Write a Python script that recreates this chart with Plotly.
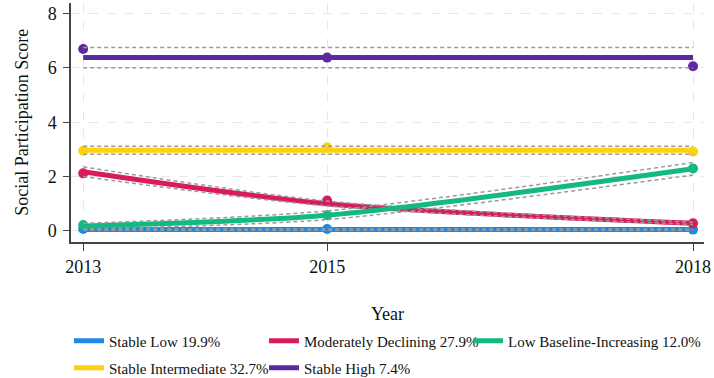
import plotly.graph_objects as go

years = [2013, 2015, 2018]
groups = ["Stable Low 19.9%", "Moderately Declining 27.9%", "Low Baseline-Increasing 12.0%",
          "Stable Intermediate 32.7%", "Stable High 7.4%"]
colors = ["#1E88E5", "#D81B60", "#12B981", "#FFD10A", "#5B2AA0"]

observed_low = [0.07, 0.07, 0.05]
observed_decl = [2.12, 1.12, 0.28]
observed_incr = [0.22, 0.58, 2.30]
observed_inter = [2.95, 3.08, 2.92]
observed_high = [6.70, 6.38, 6.06]

fitted_low = [0.05, 0.05, 0.05]
fitted_decl = [2.18, 1.00, 0.28]
fitted_incr = [0.18, 0.58, 2.29]
fitted_inter = [2.97, 2.97, 2.97]
fitted_high = [6.38, 6.38, 6.38]

upper_low = [0.07, 0.07, 0.07]
lower_low = [0.03, 0.03, 0.03]
upper_decl = [2.36, 1.10, 0.32]
lower_decl = [2.00, 0.92, 0.24]
upper_incr = [0.28, 0.74, 2.52]
lower_incr = [0.08, 0.42, 2.06]
upper_inter = [3.12, 3.12, 3.12]
lower_inter = [2.82, 2.82, 2.82]
upper_high = [6.75, 6.75, 6.75]
lower_high = [6.01, 6.01, 6.01]

observed = [observed_low, observed_decl, observed_incr, observed_inter, observed_high]
fitted = [fitted_low, fitted_decl, fitted_incr, fitted_inter, fitted_high]
uppers = [upper_low, upper_decl, upper_incr, upper_inter, upper_high]
lowers = [lower_low, lower_decl, lower_incr, lower_inter, lower_high]

x_ticks = [2013, 2015, 2018]
y_ticks = [0, 2, 4, 6, 8]

# legend slot (column, row) for each group
legend_cols = [0, 1, 2, 0, 1]
legend_rows = [0, 0, 0, 1, 1]
legend_col_px = [69, 264, 468]
legend_row_px = [341, 368]

FONT = "Liberation Serif"

fig = go.Figure()
legend_layouts = {}
for i, (name, col, obs, fit, up, lo) in enumerate(zip(groups, colors, observed, fitted, uppers, lowers)):
    lg = "legend" if i == 0 else f"legend{i + 1}"
    shape = "spline" if len(set(fit)) > 1 else "linear"
    fig.add_trace(go.Scatter(x=years, y=fit, mode="lines", name=name, legend=lg,
                             line=dict(color=col, width=5, shape=shape, smoothing=0.8),
                             showlegend=True))
    fig.add_trace(go.Scatter(x=years, y=obs, mode="markers", showlegend=False,
                             marker=dict(color=col, size=10)))
    for ci in (up, lo):
        fig.add_trace(go.Scatter(x=years, y=ci, mode="lines", showlegend=False,
                                 line=dict(color="#9a9a9a", width=1.5, dash="4px,3px",
                                           shape=shape, smoothing=0.8)))
    legend_layouts[lg] = dict(
        orientation="h", xanchor="left", xref="container", yanchor="middle", yref="container",
        x=legend_col_px[legend_cols[i]] / 714, y=1 - legend_row_px[legend_rows[i]] / 378,
        font=dict(family=FONT, size=15, color="#111"), itemwidth=30, bgcolor="rgba(0,0,0,0)")

fig.update_layout(
    width=714, height=378,
    margin=dict(l=71, r=9, t=3, b=129),
    plot_bgcolor="white", paper_bgcolor="white",
    font=dict(family=FONT, size=18, color="#111"),
    **legend_layouts,
)
fig.update_xaxes(range=[2012.9, 2018.09], tickvals=x_ticks, ticktext=[str(t) for t in x_ticks],
                 showline=True, linecolor="#444", linewidth=1.5,
                 ticks="outside", ticklen=8, tickcolor="#444",
                 showgrid=True, gridcolor="#e6e6e6", griddash="dash", gridwidth=1,
                 zeroline=False, tickfont=dict(family=FONT, size=18),
                 title=dict(text="Year", font=dict(family=FONT, size=18), standoff=32))
fig.update_yaxes(range=[-0.39, 8.39], tickvals=y_ticks,
                 showline=True, linecolor="#444", linewidth=1.5,
                 ticks="outside", ticklen=6, tickcolor="#444", ticklabelstandoff=3,
                 showgrid=True, gridcolor="#e6e6e6", griddash="dash", gridwidth=1,
                 zeroline=False, tickfont=dict(family=FONT, size=18),
                 title=dict(text="Social Participation Score", font=dict(family=FONT, size=18), standoff=14))

fig.write_html("out.html")
